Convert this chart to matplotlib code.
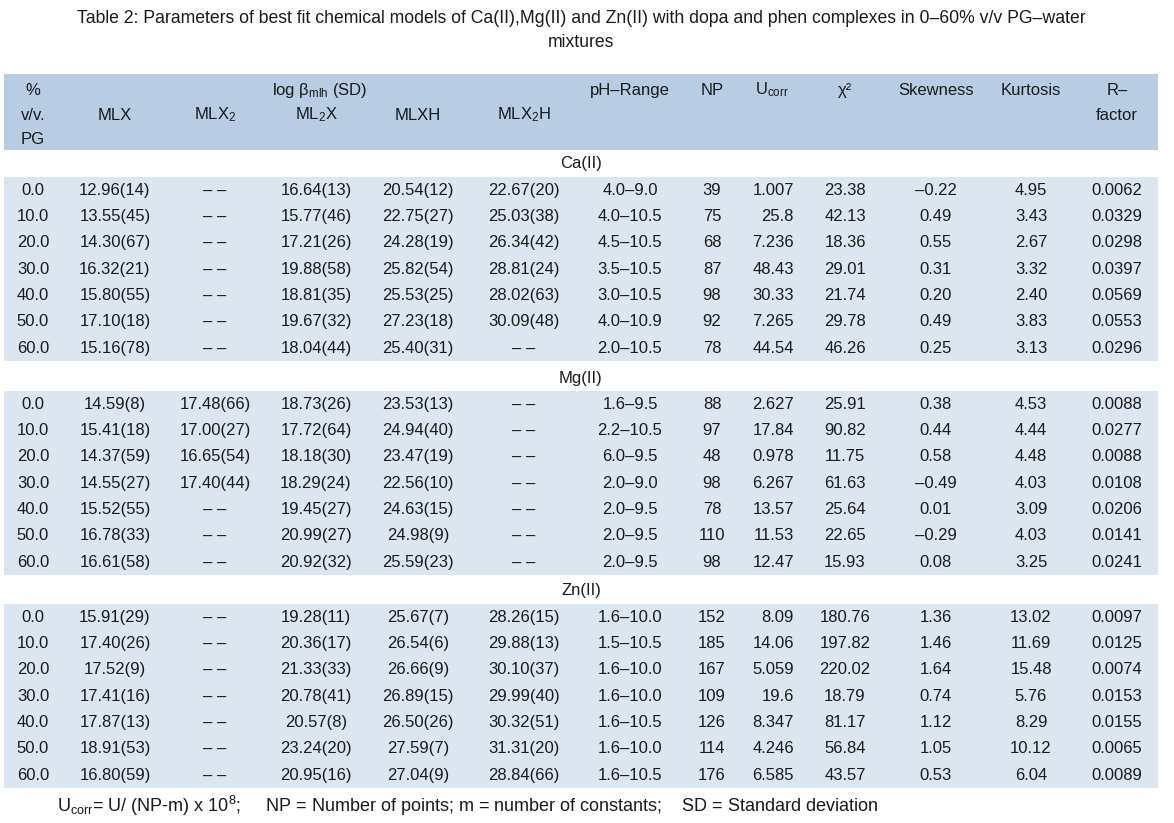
import matplotlib.pyplot as plt
from matplotlib.patches import Rectangle

plt.rcParams['font.family'] = ['Liberation Sans', 'DejaVu Sans']
plt.rcParams['mathtext.fontset'] = 'custom'
plt.rcParams['mathtext.rm'] = 'Liberation Sans'
plt.rcParams['mathtext.it'] = 'Liberation Sans:italic'

# Дані таблиці
sections = ['Ca(II)', 'Mg(II)', 'Zn(II)']
pct = ['0.0', '10.0', '20.0', '30.0', '40.0', '50.0', '60.0'] * 3
mlx = ['12.96(14)', '13.55(45)', '14.30(67)', '16.32(21)', '15.80(55)', '17.10(18)', '15.16(78)',
       '14.59(8)', '15.41(18)', '14.37(59)', '14.55(27)', '15.52(55)', '16.78(33)', '16.61(58)',
       '15.91(29)', '17.40(26)', '17.52(9)', '17.41(16)', '17.87(13)', '18.91(53)', '16.80(59)']
mlx2 = ['– –'] * 7 + ['17.48(66)', '17.00(27)', '16.65(54)', '17.40(44)', '– –', '– –', '– –'] + ['– –'] * 7
ml2x = ['16.64(13)', '15.77(46)', '17.21(26)', '19.88(58)', '18.81(35)', '19.67(32)', '18.04(44)',
        '18.73(26)', '17.72(64)', '18.18(30)', '18.29(24)', '19.45(27)', '20.99(27)', '20.92(32)',
        '19.28(11)', '20.36(17)', '21.33(33)', '20.78(41)', '20.57(8)', '23.24(20)', '20.95(16)']
mlxh = ['20.54(12)', '22.75(27)', '24.28(19)', '25.82(54)', '25.53(25)', '27.23(18)', '25.40(31)',
        '23.53(13)', '24.94(40)', '23.47(19)', '22.56(10)', '24.63(15)', '24.98(9)', '25.59(23)',
        '25.67(7)', '26.54(6)', '26.66(9)', '26.89(15)', '26.50(26)', '27.59(7)', '27.04(9)']
mlx2h = ['22.67(20)', '25.03(38)', '26.34(42)', '28.81(24)', '28.02(63)', '30.09(48)', '– –',
         '– –', '– –', '– –', '– –', '– –', '– –', '– –',
         '28.26(15)', '29.88(13)', '30.10(37)', '29.99(40)', '30.32(51)', '31.31(20)', '28.84(66)']
ph_range = ['4.0–9.0', '4.0–10.5', '4.5–10.5', '3.5–10.5', '3.0–10.5', '4.0–10.9', '2.0–10.5',
            '1.6–9.5', '2.2–10.5', '6.0–9.5', '2.0–9.0', '2.0–9.5', '2.0–9.5', '2.0–9.5',
            '1.6–10.0', '1.5–10.5', '1.6–10.0', '1.6–10.0', '1.6–10.5', '1.6–10.0', '1.6–10.5']
np_points = ['39', '75', '68', '87', '98', '92', '78',
             '88', '97', '48', '98', '78', '110', '98',
             '152', '185', '167', '109', '126', '114', '176']
ucorr = ['1.007', '25.8', '7.236', '48.43', '30.33', '7.265', '44.54',
         '2.627', '17.84', '0.978', '6.267', '13.57', '11.53', '12.47',
         '8.09', '14.06', '5.059', '19.6', '8.347', '4.246', '6.585']
chi2 = ['23.38', '42.13', '18.36', '29.01', '21.74', '29.78', '46.26',
        '25.91', '90.82', '11.75', '61.63', '25.64', '22.65', '15.93',
        '180.76', '197.82', '220.02', '18.79', '81.17', '56.84', '43.57']
skewness = ['–0.22', '0.49', '0.55', '0.31', '0.20', '0.49', '0.25',
            '0.38', '0.44', '0.58', '–0.49', '0.01', '–0.29', '0.08',
            '1.36', '1.46', '1.64', '0.74', '1.12', '1.05', '0.53']
kurtosis = ['4.95', '3.43', '2.67', '3.32', '2.40', '3.83', '3.13',
            '4.53', '4.44', '4.48', '4.03', '3.09', '4.03', '3.25',
            '13.02', '11.69', '15.48', '5.76', '8.29', '10.12', '6.04']
r_factor = ['0.0062', '0.0329', '0.0298', '0.0397', '0.0569', '0.0553', '0.0296',
            '0.0088', '0.0277', '0.0088', '0.0108', '0.0206', '0.0141', '0.0241',
            '0.0097', '0.0125', '0.0074', '0.0153', '0.0155', '0.0065', '0.0089']

columns = [pct, mlx, mlx2, ml2x, mlxh, mlx2h, ph_range, np_points, ucorr, chi2, skewness, kurtosis, r_factor]
col_x = [33, 115, 215, 316, 418, 524, 630, 712, 794, 845, 936, 1031, 1117]
col_ha = ['center'] * 8 + ['right'] + ['center'] * 4

W, H = 1174, 823
fig = plt.figure(figsize=(W / 100, H / 100), dpi=100)
ax = fig.add_axes([0, 0, 1, 1])
ax.set_xlim(0, W)
ax.set_ylim(H, 0)
ax.axis('off')

txt = '#1a1a1a'
fs = 12
left, right = 4, 1158

# Заголовок
ax.text(581, 18, 'Table 2: Parameters of best fit chemical models of Ca(II),Mg(II) and Zn(II) with dopa '
        'and phen complexes in 0–60% v/v PG–water', ha='center', va='center', fontsize=12.7, color=txt)
ax.text(581, 42, 'mixtures', ha='center', va='center', fontsize=12.7, color=txt)

# Шапка таблиці
ax.add_patch(Rectangle((left, 74), right - left, 76, color='#b8cce4', lw=0))
hdr = [(33, 90, '%'), (33, 115, 'v/v.'), (33, 139, 'PG'),
       (115, 115, 'MLX'), (215, 115, r'MLX$_2$'), (320, 90, r'log β$_{\rm mlh}$ (SD)'),
       (316, 115, r'ML$_2$X'), (418, 115, 'MLXH'), (524, 115, r'MLX$_2$H'),
       (630, 90, 'pH–Range'), (712, 90, 'NP'), (772, 90, r'U$_{\rm corr}$'),
       (845, 90, 'χ²'), (936, 90, 'Skewness'), (1031, 90, 'Kurtosis'),
       (1117, 90, 'R–'), (1117, 115, 'factor')]
for x, y, s in hdr:
    ax.text(x, y, s, ha='center', va='center', fontsize=fs, color=txt)

# Блоки даних
label_y = [163, 378, 590]
block_top = [177, 391, 604]
row_h = 26.35
for k, name in enumerate(sections):
    ax.text(581, label_y[k], name, ha='center', va='center', fontsize=fs, color=txt)
    ax.add_patch(Rectangle((left, block_top[k]), right - left, 7 * row_h, color='#dce6f1', lw=0))
    for r in range(7):
        i = k * 7 + r
        y = block_top[k] + (r + 0.5) * row_h
        for col, x, ha in zip(columns, col_x, col_ha):
            ax.text(x, y, col[i], ha=ha, va='center', fontsize=fs, color=txt)

# Примітка
ax.text(57, 806, r'U$_{\rm corr}$= U/ (NP-m) x 10$^8$;     NP = Number of points; m = number of constants;'
        '    SD = Standard deviation', ha='left', va='center', fontsize=13, color=txt)

fig.savefig('out.png', dpi=100)
